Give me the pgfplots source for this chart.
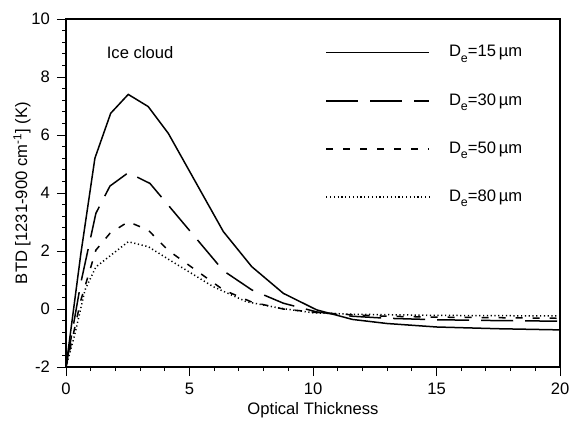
\documentclass[border=0pt]{standalone}
\usepackage{fontspec}
\setmainfont{Liberation Sans}
\usepackage{pgfplots}
\pgfplotsset{compat=1.18}
\newcommand{\De}{D\raisebox{-0.6ex}{\fontsize{6.2}{6}\selectfont e}}
\begin{document}
\begin{tikzpicture}[font=\fontsize{8.3}{10}\selectfont]
\begin{axis}[
  scale only axis,
  width=247pt, height=174pt,
  xmin=0, xmax=20, ymin=-2, ymax=10,
  xtick={0,5,10,15,20}, ytick={-2,0,2,4,6,8,10},
  minor x tick num=4, minor y tick num=4,
  xtick pos=bottom, ytick pos=left,
  tick align=outside,
  major tick length=4.5pt, minor tick length=2pt,
  axis line style={line width=1pt},
  every tick/.style={line width=0.45pt, black},
  tick label style={font=\fontsize{8.3}{10}\selectfont},
  label style={font=\fontsize{9.2}{11}\selectfont},
  /pgf/number format/assume math mode=true,
  xlabel={Optical Thickness},
  ylabel={BTD [1231-900 cm\textsuperscript{-1}] (K)},
  every axis x label/.style={at={(axis description cs:0.5,0)}, yshift=-21.5pt, anchor=center},
  every axis y label/.style={at={(axis description cs:0,0.5)}, xshift=-22pt, rotate=90, anchor=center},
  legend style={draw=none, fill=none, at={(axis cs:10.49,9.1)}, anchor=north west,
    row sep=16.8pt, column sep=9.5pt, inner sep=0pt, nodes={inner sep=0pt}},
  legend cell align=left,
  legend image code/.code={\draw[#1] (0pt,0pt) -- (51.5pt,0pt);},
  clip=true,
]
\coordinate (bl) at (rel axis cs:0,0);
\coordinate (tr) at (rel axis cs:1,1);
\addplot[black, line width=0.75pt] coordinates {
(0,-2) (0.6,1.9) (1.17,5.2) (1.81,6.75) (2.52,7.40) (3.33,6.98) (4.14,6.06)
(6.37,2.67) (7.52,1.46) (8.8,0.54) (10.15,-0.03) (11.6,-0.36) (13,-0.5)
(15,-0.62) (17.5,-0.68) (20,-0.72)};
\addlegendentry{\De=15\,µm}
\addplot[black, line width=0.75pt, dash pattern=on 16pt off 6pt] coordinates {
(0,-2) (0.6,0.9) (1.21,3.3) (1.78,4.24) (2.52,4.70) (3.4,4.33) (4.14,3.58)
(6.37,1.32) (7.52,0.66) (8.8,0.2) (10.15,-0.1) (11.6,-0.25) (13,-0.32)
(15,-0.37) (17.5,-0.4) (20,-0.42)};
\addlegendentry{\De=30\,µm}
\addplot[black, line width=0.75pt, dash pattern=on 3.5pt off 5pt] coordinates {
(0,-2) (0.6,0.3) (1.21,2.03) (1.78,2.61) (2.52,3.01) (3.33,2.72) (4.14,2.02)
(6.37,0.66) (7.52,0.24) (8.8,0.0) (10.15,-0.12) (11.6,-0.2) (13,-0.25)
(15,-0.28) (17.5,-0.3) (20,-0.32)};
\addlegendentry{\De=50\,µm}
\addplot[black, line width=0.75pt, dash pattern=on 0.6pt off 1.3pt] coordinates {
(0,-2) (0.35,-0.9) (0.77,0.66) (1.21,1.45) (1.81,1.85) (2.52,2.32) (3.33,2.15)
(4.14,1.72) (5.96,0.77) (7.31,0.25) (8.66,0.03) (10.0,-0.13) (11.6,-0.18)
(15,-0.22) (17.5,-0.23) (20,-0.24)};
\addlegendentry{\De=80\,µm}
\node[anchor=center] at (axis cs:3.0,8.85) {Ice cloud};
\end{axis}
\pgfresetboundingbox
\useasboundingbox ([shift={(-33pt,-26.5pt)}]bl) rectangle ([shift={(6pt,9.5pt)}]tr);
\end{tikzpicture}
\end{document}
